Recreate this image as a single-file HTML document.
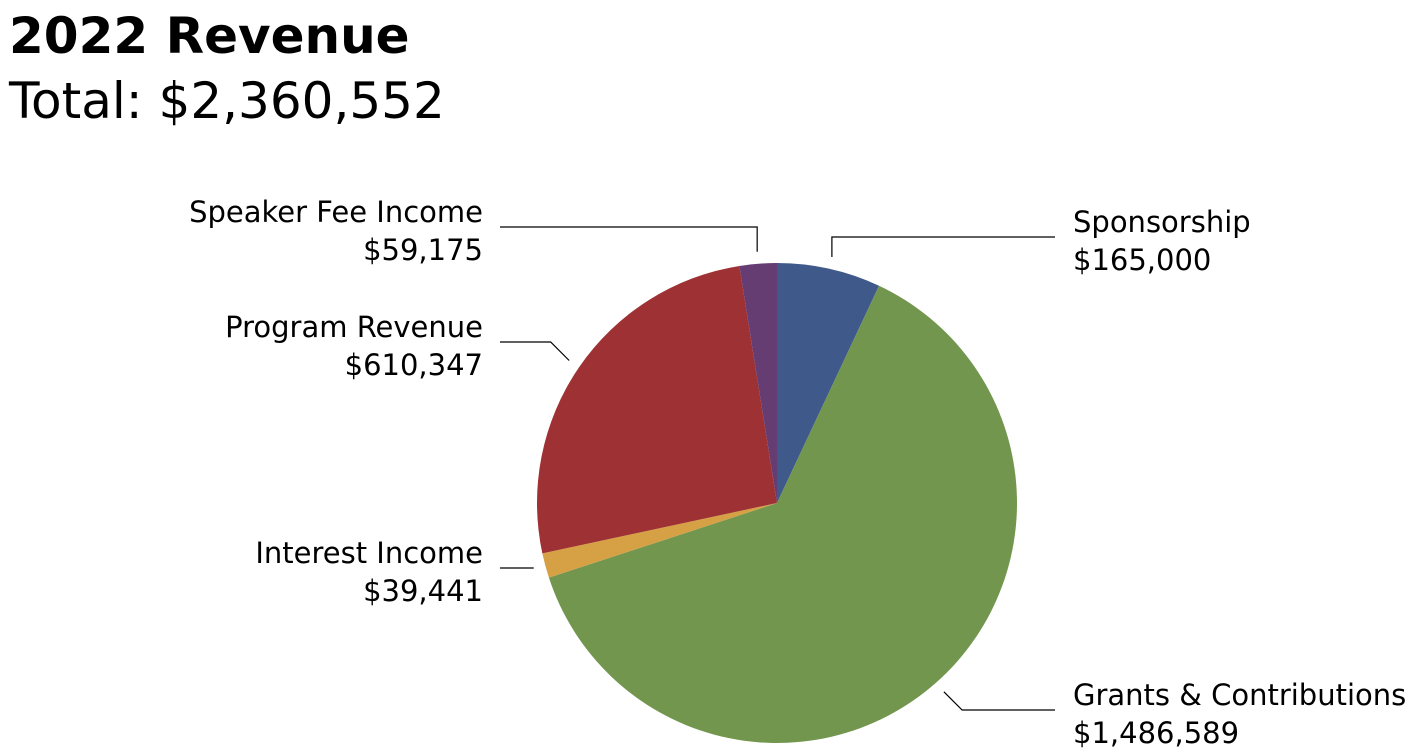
<!DOCTYPE html>
<html><head><meta charset="utf-8"><style>
body{margin:0;background:#fff;width:1411px;height:752px;overflow:hidden;font-family:"DejaVu Sans","Liberation Sans",sans-serif}
</style></head><body>
<svg width="1411" height="752" id="chart">
<text x="9" y="53" font-size="50" font-weight="bold">2022 Revenue</text>
<text x="9" y="118" font-size="50">Total: $2,360,552</text>
<g id="slices"></g><g id="labels" font-size="29" fill="#000"></g>
</svg>
<script>
const categories=["Sponsorship","Grants & Contributions","Interest Income","Program Revenue","Speaker Fee Income"];
const values=[165000,1486589,39441,610347,59175];
const valueLabels=["$165,000","$1,486,589","$39,441","$610,347","$59,175"];
const colors=["#3F5A8A","#72964E","#D6A045","#9E3133","#663D73"];
const cx=777,cy=503,r=240;
const total=values.reduce((a,b)=>a+b,0);
const ns="http://www.w3.org/2000/svg";
const sg=document.getElementById('slices'),lg=document.getElementById('labels');
function pt(a,rr){return [cx+rr*Math.sin(a),cy-rr*Math.cos(a)];}
let acc=0;
const layout=[
 {side:1,ty:232,lx:1055},
 {side:1,ty:705,lx:1055},
 {side:-1,ty:563,lx:500},
 {side:-1,ty:337,lx:500},
 {side:-1,ty:222,lx:500}];
values.forEach((v,i)=>{
 const a0=acc/total*2*Math.PI;acc+=v;const a1=acc/total*2*Math.PI;
 const p0=pt(a0,r),p1=pt(a1,r);
 const path=document.createElementNS(ns,'path');
 path.setAttribute('d',`M${cx},${cy}L${p0[0]},${p0[1]}A${r},${r} 0 ${a1-a0>Math.PI?1:0} 1 ${p1[0]},${p1[1]}Z`);
 path.setAttribute('fill',colors[i]);
 
 
 sg.appendChild(path);
 const L=layout[i];const am=(a0+a1)/2;
 const e=pt(am,r+12);const ly=L.ty+5;
 let d;
 if(Math.abs(e[1]-ly)<8) d=`M${L.lx},${ly}L${e[0]},${ly}`;
 else{
   const dy=ly-e[1];const bx=Math.abs(Math.cos(am))>0.8? e[0] : e[0]+L.side*Math.abs(dy);
   d=Math.abs(Math.cos(am))>0.8?`M${L.lx},${ly}L${e[0]},${ly}L${e[0]},${e[1]}`:`M${L.lx},${ly}L${bx},${ly}L${e[0]},${e[1]}`;
 }
 const line=document.createElementNS(ns,'path');
 line.setAttribute('d',d);line.setAttribute('stroke','#000');line.setAttribute('stroke-width','1.2');line.setAttribute('fill','none');
 
 
 lg.appendChild(line);
 [categories[i],valueLabels[i]].forEach((s,k)=>{
  const t=document.createElementNS(ns,'text');
  t.textContent=s;
  t.setAttribute('x',L.side>0?1073:483);
  t.setAttribute('y',L.ty+k*38);
  t.setAttribute('text-anchor',L.side>0?'start':'end');
  
  
  lg.appendChild(t);
 });
});
</script>
</body></html>
